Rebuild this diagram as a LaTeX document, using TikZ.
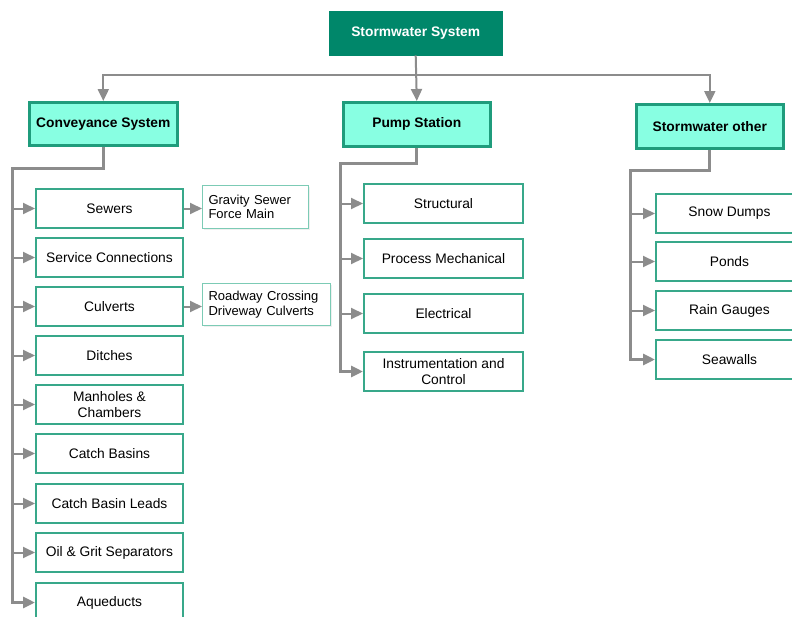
\documentclass[tikz,border=0pt]{standalone}
\usepackage{fontspec}
\setmainfont{Liberation Sans}
\usetikzlibrary{arrows.meta,shadows}
\definecolor{topgreen}{HTML}{00876A}
\definecolor{aqua}{HTML}{88FFE2}
\definecolor{hborder}{HTML}{1F9C7C}
\definecolor{cborder}{HTML}{38A88A}
\definecolor{sborder}{HTML}{7CCBB5}
\definecolor{conn}{HTML}{8C8C8C}
\tikzset{
  base/.style={anchor=north west, inner sep=0pt, align=center, font=\fontsize{13.8}{15.5}\selectfont,
    drop shadow={opacity=0.12, shadow xshift=1.2pt, shadow yshift=-1.2pt}},
  topbox/.style={base, fill=topgreen, draw=topgreen, text=white, font=\bfseries\fontsize{13.8}{15.5}\selectfont},
  headbox/.style={base, fill=aqua, draw=hborder, line width=2.6pt, font=\bfseries\fontsize{13.8}{15.5}\selectfont},
  childbox/.style={base, fill=white, draw=cborder, line width=2pt},
  sidebox/.style={base, fill=white, draw=sborder, line width=1.1pt, align=left, text width=#1, inner xsep=6pt,
    font=\fontsize{13}{14.5}\selectfont},
  tip/.style={-{Triangle[length=12pt,width=11pt]}},
  trunk/.style={draw=conn, line width=3pt, tip},
  branch/.style={draw=conn, line width=2pt, tip},
}
\begin{document}
\hyphenpenalty=10000
\begin{tikzpicture}[x=1pt,y=-1pt]
\useasboundingbox (0,0) rectangle (792,616);
\fill[white] (0,0) rectangle (792,616);

% top
\node[topbox, minimum width=173pt, minimum height=44pt] (top) at (329,11) {Stormwater System};
% headers
\node[headbox, minimum width=148pt, minimum height=43pt] (conv) at (28,101) {Conveyance System};
\node[headbox, minimum width=147pt, minimum height=44pt] (pump) at (342,101) {Pump Station};
\node[headbox, minimum width=147pt, minimum height=44pt] (other) at (635,103) {Stormwater other};

% conveyance children
\node[childbox, minimum width=147pt, minimum height=39pt] (sew) at (35,188) {Sewers};
\node[childbox, minimum width=147pt, minimum height=39pt] (serv) at (35,237) {Service Connections};
\node[childbox, minimum width=147pt, minimum height=39pt] (culv) at (35,286) {Culverts};
\node[childbox, minimum width=147pt, minimum height=39pt] (ditch) at (35,335) {Ditches};
\node[childbox, minimum width=147pt, minimum height=39pt] (manh) at (35,384) {Manholes \&\\Chambers};
\node[childbox, minimum width=147pt, minimum height=39pt] (cb) at (35,433) {Catch Basins};
\node[childbox, minimum width=147pt, minimum height=39pt] (cbl) at (35,483) {Catch Basin Leads};
\node[childbox, minimum width=147pt, minimum height=39pt] (oil) at (35,532) {Oil \& Grit Separators};
\node[childbox, minimum width=147pt, minimum height=39pt] (aq) at (35,582) {Aqueducts};

% side boxes
\node[sidebox=94pt, minimum width=106pt, minimum height=43pt] (grav) at (202,185) {Gravity Sewer\\Force Main};
\node[sidebox=116pt, minimum width=128pt, minimum height=42pt] (road) at (202,283) {Roadway Crossing\\Driveway Culverts};

% pump children
\node[childbox, minimum width=159pt, minimum height=39pt] (struc) at (363,183) {Structural};
\node[childbox, minimum width=159pt, minimum height=39pt] (proc) at (363,238) {Process Mechanical};
\node[childbox, minimum width=159pt, minimum height=39pt] (elec) at (363,293) {Electrical};
\node[childbox, minimum width=159pt, minimum height=39pt] (instr) at (363,351) {Instrumentation and\\Control};

% other children
\node[childbox, minimum width=147pt, minimum height=39pt] (snow) at (655,193) {Snow Dumps};
\node[childbox, minimum width=147pt, minimum height=39pt] (ponds) at (655,241) {Ponds};
\node[childbox, minimum width=147pt, minimum height=39pt] (rain) at (655,290) {Rain Gauges};
\node[childbox, minimum width=147pt, minimum height=39pt] (sea) at (655,339) {Seawalls};

% top connectors
\coordinate (hub) at (415.5,75);
\draw[branch] (top.south) -- (pump.north);
\draw[branch] (hub) -| (conv.north);
\draw[branch] (hub) -| (other.north);

% conveyance tree
\coordinate (cbend) at (12,168);
\draw[trunk] (conv.south) |- (cbend) |- (aq.west);
\foreach \n in {sew,serv,culv,ditch,manh,cb,cbl,oil}
  \draw[branch] (cbend |- \n.west) -- (\n.west);
\draw[branch] (sew.east) -- (sew.east -| grav.west);
\draw[branch] (culv.east) -- (culv.east -| road.west);

% pump tree
\coordinate (pbend) at (340,163);
\draw[trunk] (pump.south) |- (pbend) |- (instr.west);
\foreach \n in {struc,proc,elec}
  \draw[branch] (pbend |- \n.west) -- (\n.west);

% other tree
\coordinate (obend) at (630,170);
\draw[trunk] (other.south) |- (obend) |- (sea.west);
\foreach \n in {snow,ponds,rain}
  \draw[branch] (obend |- \n.west) -- (\n.west);
\end{tikzpicture}
\end{document}
